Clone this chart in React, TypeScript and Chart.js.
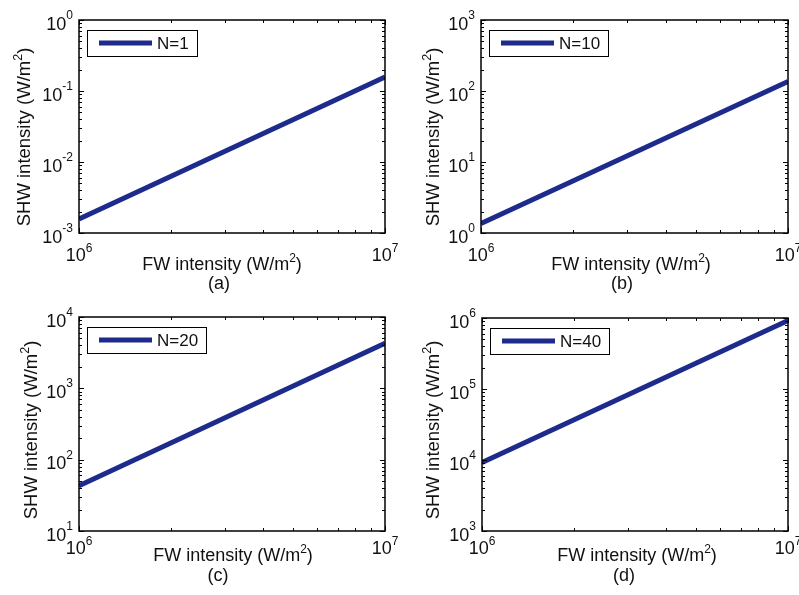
import React, { useEffect, useRef } from 'react';
import { Chart, registerables } from 'chart.js';

Chart.register(...registerables);

// ---------- data ----------
const fwIntensity = [1e6, 1e7];
const shwN1 = [1.57e-3, 0.157];
const shwN10 = [1.36, 136];
const shwN20 = [43, 4300];
const shwN40 = [9.2e3, 9.2e5];
const seriesLabels = ['N=1', 'N=10', 'N=20', 'N=40'];
const panelLetters = ['(a)', '(b)', '(c)', '(d)'];
const xDecadeRange = [6, 7];
const yDecadeRangeA = [-3, 0];
const yDecadeRangeB = [0, 3];
const yDecadeRangeC = [1, 4];
const yDecadeRangeD = [3, 6];
const xTitleParts = [{ t: 'FW intensity (W/m' }, { t: '2', sup: true }, { t: ')' }];
const yTitleParts = [{ t: 'SHW intensity (W/m' }, { t: '2', sup: true }, { t: ')' }];

// ---------- layout (page coordinates) ----------
const FONT = '"Liberation Sans", Arial, Helvetica, sans-serif';
const LINE_COLOR = '#1c2b8c';
const TEXT_COLOR = '#111';

type Part = { t: string; sup?: boolean };

interface Panel {
  canvas: { left: number; top: number; w: number; h: number };
  area: { l: number; t: number; r: number; b: number };
  ys: number[];
  yRange: number[];
  label: string;
  letter: string;
  xTickBase: number;
  xTitle: { cx: number; base: number };
  letterPos: { cx: number; base: number };
  yTitle: { cx: number; cy: number };
}

const panels: Panel[] = [
  {
    canvas: { left: 0, top: 0, w: 400, h: 298 },
    area: { l: 79, t: 20, r: 385, b: 233 },
    ys: shwN1, yRange: yDecadeRangeA, label: seriesLabels[0], letter: panelLetters[0],
    xTickBase: 261, xTitle: { cx: 222, base: 270 }, letterPos: { cx: 219, base: 289 },
    yTitle: { cx: 23, cy: 137 },
  },
  {
    canvas: { left: 400, top: 0, w: 399, h: 298 },
    area: { l: 481, t: 20, r: 788, b: 233 },
    ys: shwN10, yRange: yDecadeRangeB, label: seriesLabels[1], letter: panelLetters[1],
    xTickBase: 261, xTitle: { cx: 631, base: 270 }, letterPos: { cx: 622, base: 289 },
    yTitle: { cx: 432, cy: 137 },
  },
  {
    canvas: { left: 0, top: 298, w: 400, h: 297 },
    area: { l: 79, t: 317, r: 385, b: 531 },
    ys: shwN20, yRange: yDecadeRangeC, label: seriesLabels[2], letter: panelLetters[2],
    xTickBase: 554, xTitle: { cx: 233, base: 561 }, letterPos: { cx: 218, base: 581 },
    yTitle: { cx: 30, cy: 430 },
  },
  {
    canvas: { left: 400, top: 298, w: 399, h: 297 },
    area: { l: 482, t: 318, r: 788, b: 531 },
    ys: shwN40, yRange: yDecadeRangeD, label: seriesLabels[3], letter: panelLetters[3],
    xTickBase: 554, xTitle: { cx: 637, base: 561 }, letterPos: { cx: 624, base: 581 },
    yTitle: { cx: 432, cy: 430 },
  },
];

function richWidth(ctx: CanvasRenderingContext2D, parts: Part[], size: number, supSize: number) {
  let w = 0;
  for (const p of parts) {
    ctx.font = `${p.sup ? supSize : size}px ${FONT}`;
    w += ctx.measureText(p.t).width;
  }
  return w;
}

function drawRich(
  ctx: CanvasRenderingContext2D, parts: Part[], x: number, y: number,
  align: 'left' | 'center' | 'right', size: number, supSize: number, supRise: number
) {
  const w = richWidth(ctx, parts, size, supSize);
  let cx = align === 'left' ? x : align === 'center' ? x - w / 2 : x - w;
  ctx.textAlign = 'left';
  ctx.textBaseline = 'alphabetic';
  for (const p of parts) {
    ctx.font = `${p.sup ? supSize : size}px ${FONT}`;
    ctx.fillText(p.t, cx, p.sup ? y - supRise : y);
    cx += ctx.measureText(p.t).width;
  }
}

function PanelChart({ p }: { p: Panel }) {
  const ref = useRef<HTMLCanvasElement | null>(null);
  useEffect(() => {
    const canvas = ref.current;
    if (!canvas) return;
    const ox = p.canvas.left;
    const oy = p.canvas.top;
    const yMin = Math.pow(10, p.yRange[0]);
    const yMax = Math.pow(10, p.yRange[1]);

    const decor = {
      id: 'matlabDecor',
      afterDraw(chart: any) {
        const ctx: CanvasRenderingContext2D = chart.ctx;
        const a = chart.chartArea;
        const xs = chart.scales.x;
        const ysc = chart.scales.y;
        ctx.save();
        // box
        ctx.strokeStyle = '#000';
        ctx.lineWidth = 1.5;
        ctx.strokeRect(a.left, a.top, a.right - a.left, a.bottom - a.top);
        // ticks
        ctx.lineWidth = 1;
        ctx.beginPath();
        for (let d = xDecadeRange[0]; d <= xDecadeRange[1]; d++) {
          for (let m = 1; m <= 9; m++) {
            const v = m * Math.pow(10, d);
            if (v <= 1e6 * 0.999 || v >= 1e7 * 1.001) continue;
            const px = Math.round(xs.getPixelForValue(v)) + 0.5;
            const len = m === 1 ? 5 : 3;
            ctx.moveTo(px, a.bottom); ctx.lineTo(px, a.bottom - len);
            ctx.moveTo(px, a.top); ctx.lineTo(px, a.top + len);
          }
        }
        for (let d = p.yRange[0]; d <= p.yRange[1]; d++) {
          for (let m = 1; m <= 9; m++) {
            const v = m * Math.pow(10, d);
            if (v <= yMin * 0.999 || v >= yMax * 1.001) continue;
            const py = Math.round(ysc.getPixelForValue(v)) + 0.5;
            const len = m === 1 ? 5 : 3;
            ctx.moveTo(a.left, py); ctx.lineTo(a.left + len, py);
            ctx.moveTo(a.right, py); ctx.lineTo(a.right - len, py);
          }
        }
        ctx.stroke();

        ctx.fillStyle = TEXT_COLOR;
        // x tick labels
        for (let d = xDecadeRange[0]; d <= xDecadeRange[1]; d++) {
          const px = xs.getPixelForValue(Math.pow(10, d));
          drawRich(ctx, [{ t: '10' }, { t: String(d), sup: true }], px, p.xTickBase - oy, 'center', 18, 12, 9.5);
        }
        // y tick labels
        for (let d = p.yRange[0]; d <= p.yRange[1]; d++) {
          const py = ysc.getPixelForValue(Math.pow(10, d));
          drawRich(ctx, [{ t: '10' }, { t: String(d), sup: true }], a.left - 6, py + 9.5, 'right', 18, 12, 10.5);
        }
        // x title
        drawRich(ctx, xTitleParts, p.xTitle.cx - ox, p.xTitle.base - oy, 'center', 18, 12, 8);
        // panel letter
        ctx.font = `18px ${FONT}`;
        ctx.textAlign = 'center';
        ctx.fillText(p.letter, p.letterPos.cx - ox, p.letterPos.base - oy);
        // y title
        ctx.save();
        ctx.translate(p.yTitle.cx - ox + 6.5, p.yTitle.cy - oy);
        ctx.rotate(-Math.PI / 2);
        drawRich(ctx, yTitleParts, 0, 0, 'center', 18.5, 12.5, 8);
        ctx.restore();

        // legend
        const ds = chart.data.datasets[0];
        ctx.font = `17px ${FONT}`;
        const tw = ctx.measureText(ds.label).width;
        const bx = a.left + 8;
        const by = a.top + 10;
        const bh = 26;
        const lineStart = bx + 12;
        const lineEnd = bx + 65;
        const textX = lineEnd + 5;
        const bw = textX + tw + 8 - bx;
        ctx.fillStyle = '#fff';
        ctx.fillRect(bx, by, bw, bh);
        ctx.strokeStyle = '#000';
        ctx.lineWidth = 1;
        ctx.strokeRect(Math.round(bx) + 0.5, Math.round(by) + 0.5, Math.round(bw), bh);
        ctx.strokeStyle = ds.borderColor;
        ctx.lineWidth = ds.borderWidth;
        ctx.beginPath();
        ctx.moveTo(lineStart, by + bh / 2);
        ctx.lineTo(lineEnd, by + bh / 2);
        ctx.stroke();
        ctx.fillStyle = TEXT_COLOR;
        ctx.textAlign = 'left';
        ctx.textBaseline = 'middle';
        ctx.fillText(ds.label, textX, by + bh / 2 + 1);
        ctx.restore();
      },
    };

    const chart = new Chart(canvas, {
      type: 'line',
      data: {
        datasets: [
          {
            label: p.label,
            data: fwIntensity.map((x, i) => ({ x, y: p.ys[i] })),
            borderColor: LINE_COLOR,
            borderWidth: 5,
            pointRadius: 0,
            fill: false,
            tension: 0,
            borderCapStyle: 'butt',
          },
        ],
      },
      options: {
        animation: false,
        responsive: false,
        devicePixelRatio: 1,
        layout: {
          padding: {
            left: p.area.l - ox,
            top: p.area.t - oy,
            right: ox + p.canvas.w - p.area.r,
            bottom: oy + p.canvas.h - p.area.b,
          },
        },
        scales: {
          x: { type: 'logarithmic', min: 1e6, max: 1e7, display: false },
          y: { type: 'logarithmic', min: yMin, max: yMax, display: false },
        },
        plugins: { legend: { display: false }, tooltip: { enabled: false } },
      } as any,
      plugins: [decor],
    });
    return () => chart.destroy();
  }, [p]);

  return (
    <canvas
      ref={ref}
      width={p.canvas.w}
      height={p.canvas.h}
      style={{ position: 'absolute', left: p.canvas.left, top: p.canvas.top, width: p.canvas.w, height: p.canvas.h }}
    />
  );
}

export default function App() {
  useEffect(() => {
    document.body.style.margin = '0';
    document.body.style.background = '#fff';
  }, []);
  return (
    <div style={{ position: 'relative', width: 799, height: 595, background: '#fff', overflow: 'hidden' }}>
      {panels.map((p, i) => (
        <PanelChart key={i} p={p} />
      ))}
    </div>
  );
}
